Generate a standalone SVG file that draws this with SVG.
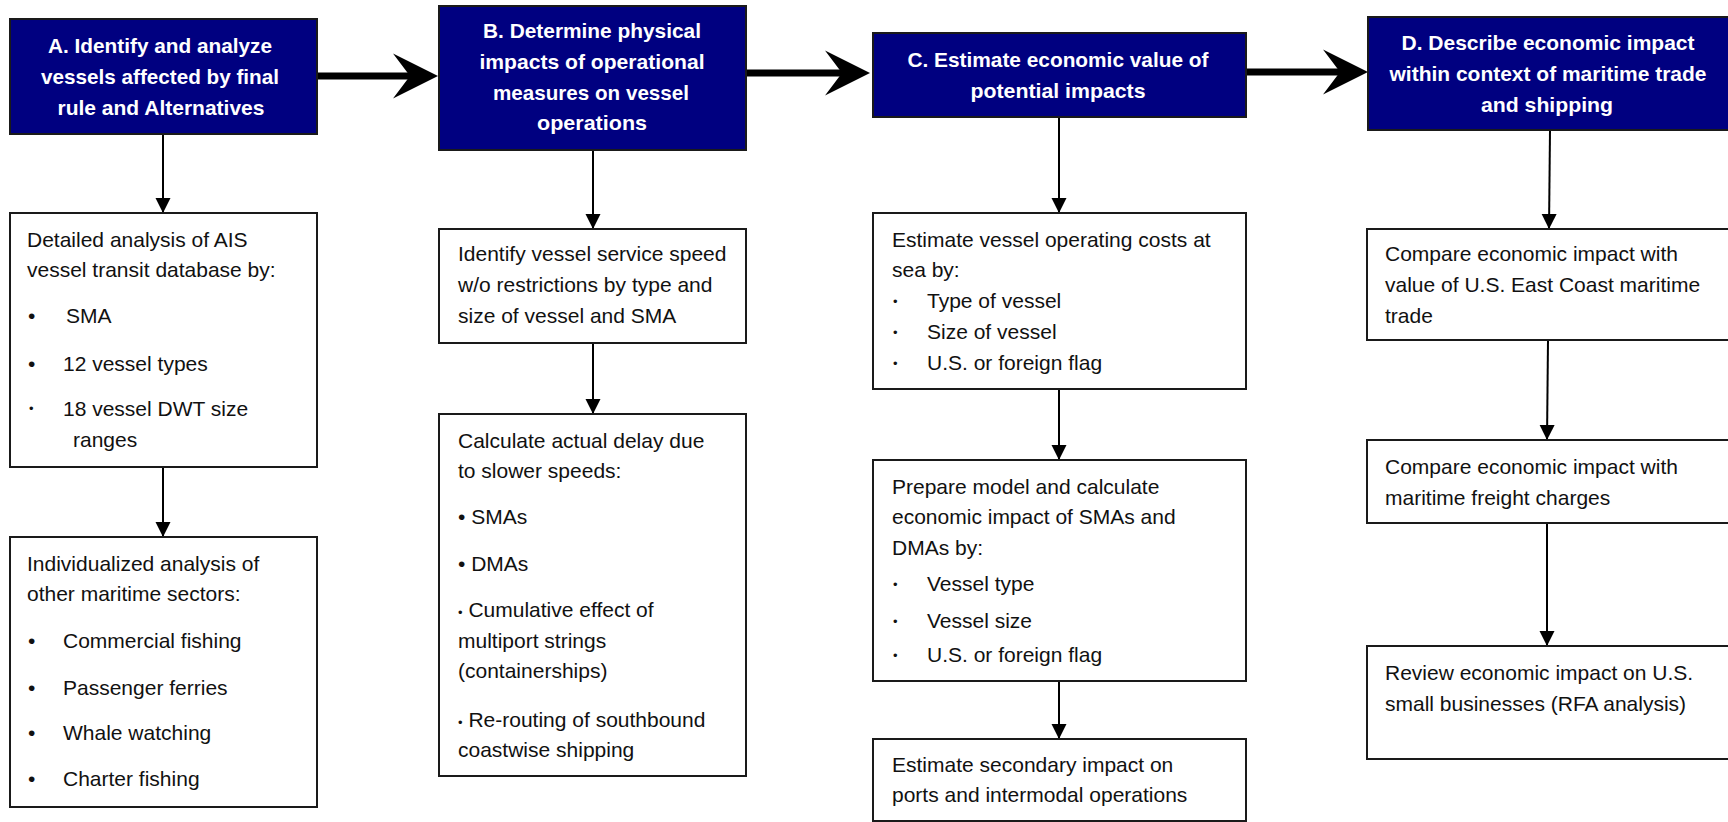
<svg xmlns="http://www.w3.org/2000/svg" width="1728" height="822" viewBox="0 0 1728 822">
<style>
.hdr rect{fill:#000080;stroke:#1a1a1a;stroke-width:2}
.box rect{fill:#fff;stroke:#1a1a1a;stroke-width:2}
.ht{font-family:"Liberation Sans Narrow","Arial Narrow","Liberation Sans",sans-serif;font-weight:bold;font-size:21px;fill:#fff;text-anchor:middle}
.bt{font-family:"Liberation Sans",Arial,sans-serif;font-size:21px;fill:#111}
.sb{font-size:13px}
.big{stroke:#000;stroke-width:7;fill:none}
.thin{stroke:#000;stroke-width:2;fill:none}
</style>
<defs>
<marker id="bigArrow" markerUnits="userSpaceOnUse" markerWidth="46" markerHeight="46" refX="17" refY="22.5" orient="auto" overflow="visible">
<path d="M0,0 L45,22.5 L0,45 L17,22.5 Z" fill="#000"/>
</marker>
<marker id="smallArrow" markerUnits="userSpaceOnUse" markerWidth="15" markerHeight="15" refX="15" refY="7.5" orient="auto" overflow="visible">
<path d="M0,0 L15,7.5 L0,15 Z" fill="#000"/>
</marker>
</defs>
<rect width="1728" height="822" fill="#fff"/>

<g id="connectors">
<line class="big" x1="317" y1="76" x2="410" y2="76" marker-end="url(#bigArrow)"/>
<line class="big" x1="746" y1="73" x2="842" y2="73" marker-end="url(#bigArrow)"/>
<line class="big" x1="1246" y1="72" x2="1340" y2="72" marker-end="url(#bigArrow)"/>
<line class="thin" x1="163" y1="134" x2="163" y2="213" marker-end="url(#smallArrow)"/>
<line class="thin" x1="163" y1="467" x2="163" y2="537" marker-end="url(#smallArrow)"/>
<line class="thin" x1="593" y1="150" x2="593" y2="229" marker-end="url(#smallArrow)"/>
<line class="thin" x1="593" y1="343" x2="593" y2="414" marker-end="url(#smallArrow)"/>
<line class="thin" x1="1059" y1="117" x2="1059" y2="213" marker-end="url(#smallArrow)"/>
<line class="thin" x1="1059" y1="389" x2="1059" y2="460" marker-end="url(#smallArrow)"/>
<line class="thin" x1="1059" y1="681" x2="1059" y2="739" marker-end="url(#smallArrow)"/>
<line class="thin" x1="1550" y1="130" x2="1549" y2="229" marker-end="url(#smallArrow)"/>
<line class="thin" x1="1548" y1="340" x2="1547" y2="440" marker-end="url(#smallArrow)"/>
<line class="thin" x1="1547" y1="523" x2="1547" y2="646" marker-end="url(#smallArrow)"/>
</g>

<g id="nodeA" class="hdr">
<rect x="10" y="19" width="307" height="115"/>
<text class="ht" x="160" y="53" textLength="224" lengthAdjust="spacingAndGlyphs">A. Identify and analyze</text>
<text class="ht" x="160" y="84" textLength="238" lengthAdjust="spacingAndGlyphs">vessels affected by final</text>
<text class="ht" x="161" y="115" textLength="207" lengthAdjust="spacingAndGlyphs">rule and Alternatives</text>
</g>
<g id="nodeB" class="hdr">
<rect x="439" y="6" width="307" height="144"/>
<text class="ht" x="592" y="38" textLength="218" lengthAdjust="spacingAndGlyphs">B. Determine physical</text>
<text class="ht" x="592" y="69" textLength="225" lengthAdjust="spacingAndGlyphs">impacts of operational</text>
<text class="ht" x="591" y="100" textLength="196" lengthAdjust="spacingAndGlyphs">measures on vessel</text>
<text class="ht" x="592" y="130" textLength="110" lengthAdjust="spacingAndGlyphs">operations</text>
</g>
<g id="nodeC" class="hdr">
<rect x="873" y="33" width="373" height="84"/>
<text class="ht" x="1058" y="67" textLength="301" lengthAdjust="spacingAndGlyphs">C. Estimate economic value of</text>
<text class="ht" x="1058" y="98" textLength="175" lengthAdjust="spacingAndGlyphs">potential impacts</text>
</g>
<g id="nodeD" class="hdr">
<rect x="1368" y="17" width="372" height="113"/>
<text class="ht" x="1548" y="50" textLength="293" lengthAdjust="spacingAndGlyphs">D. Describe economic impact</text>
<text class="ht" x="1548" y="81" textLength="317" lengthAdjust="spacingAndGlyphs">within context of maritime trade</text>
<text class="ht" x="1547" y="112" textLength="132" lengthAdjust="spacingAndGlyphs">and shipping</text>
</g>

<g id="nodeA1" class="box">
<rect x="10" y="213" width="307" height="254"/>
<text class="bt" x="27" y="247">Detailed analysis of  AIS</text>
<text class="bt" x="27" y="277">vessel transit database by:</text>
<text class="bt" x="28" y="323">•</text><text class="bt" x="66" y="323">SMA</text>
<text class="bt" x="28" y="371">•</text><text class="bt" x="63" y="371">12 vessel types</text>
<text class="bt sb" x="29" y="413">•</text><text class="bt" x="63" y="416">18 vessel DWT size</text>
<text class="bt" x="73" y="447">ranges</text>
</g>
<g id="nodeA2" class="box">
<rect x="10" y="537" width="307" height="270"/>
<text class="bt" x="27" y="571">Individualized analysis of</text>
<text class="bt" x="27" y="601">other maritime sectors:</text>
<text class="bt" x="28" y="648">•</text><text class="bt" x="63" y="648">Commercial fishing</text>
<text class="bt" x="28" y="695">•</text><text class="bt" x="63" y="695">Passenger ferries</text>
<text class="bt" x="28" y="740">•</text><text class="bt" x="63" y="740">Whale watching</text>
<text class="bt" x="28" y="786">•</text><text class="bt" x="63" y="786">Charter fishing</text>
</g>

<g id="nodeB1" class="box">
<rect x="439" y="229" width="307" height="114"/>
<text class="bt" x="458" y="261">Identify vessel service speed</text>
<text class="bt" x="458" y="292">w/o restrictions by type and</text>
<text class="bt" x="458" y="323">size of vessel and SMA</text>
</g>
<g id="nodeB2" class="box">
<rect x="439" y="414" width="307" height="362"/>
<text class="bt" x="458" y="448">Calculate actual delay due</text>
<text class="bt" x="458" y="478">to slower speeds:</text>
<text class="bt" x="458" y="524">• SMAs</text>
<text class="bt" x="458" y="571">• DMAs</text>
<text class="bt" x="458" y="617"><tspan class="sb">•</tspan> Cumulative effect of</text>
<text class="bt" x="458" y="648">multiport strings</text>
<text class="bt" x="458" y="678">(containerships)</text>
<text class="bt" x="458" y="727"><tspan class="sb">•</tspan> Re-routing of southbound</text>
<text class="bt" x="458" y="757">coastwise shipping</text>
</g>

<g id="nodeC1" class="box">
<rect x="873" y="213" width="373" height="176"/>
<text class="bt" x="892" y="247">Estimate vessel operating costs at</text>
<text class="bt" x="892" y="277">sea by:</text>
<text class="bt sb" x="893" y="306">•</text><text class="bt" x="927" y="308">Type of vessel</text>
<text class="bt sb" x="893" y="337">•</text><text class="bt" x="927" y="339">Size of vessel</text>
<text class="bt sb" x="893" y="368">•</text><text class="bt" x="927" y="370">U.S. or foreign flag</text>
</g>
<g id="nodeC2" class="box">
<rect x="873" y="460" width="373" height="221"/>
<text class="bt" x="892" y="494">Prepare model and calculate</text>
<text class="bt" x="892" y="524">economic impact of SMAs and</text>
<text class="bt" x="892" y="555">DMAs by:</text>
<text class="bt sb" x="893" y="589">•</text><text class="bt" x="927" y="591">Vessel type</text>
<text class="bt sb" x="893" y="626">•</text><text class="bt" x="927" y="628">Vessel size</text>
<text class="bt sb" x="893" y="660">•</text><text class="bt" x="927" y="662">U.S. or foreign flag</text>
</g>
<g id="nodeC3" class="box">
<rect x="873" y="739" width="373" height="82"/>
<text class="bt" x="892" y="772">Estimate secondary impact on</text>
<text class="bt" x="892" y="802">ports and intermodal operations</text>
</g>

<g id="nodeD1" class="box">
<rect x="1367" y="229" width="380" height="111"/>
<text class="bt" x="1385" y="261">Compare economic impact with</text>
<text class="bt" x="1385" y="292">value of U.S. East Coast maritime</text>
<text class="bt" x="1385" y="323">trade</text>
</g>
<g id="nodeD2" class="box">
<rect x="1367" y="440" width="380" height="83"/>
<text class="bt" x="1385" y="474">Compare economic impact  with</text>
<text class="bt" x="1385" y="505">maritime freight charges</text>
</g>
<g id="nodeD3" class="box">
<rect x="1367" y="646" width="380" height="113"/>
<text class="bt" x="1385" y="680">Review economic impact on U.S.</text>
<text class="bt" x="1385" y="711">small businesses  (RFA analysis)</text>
</g>
</svg>
